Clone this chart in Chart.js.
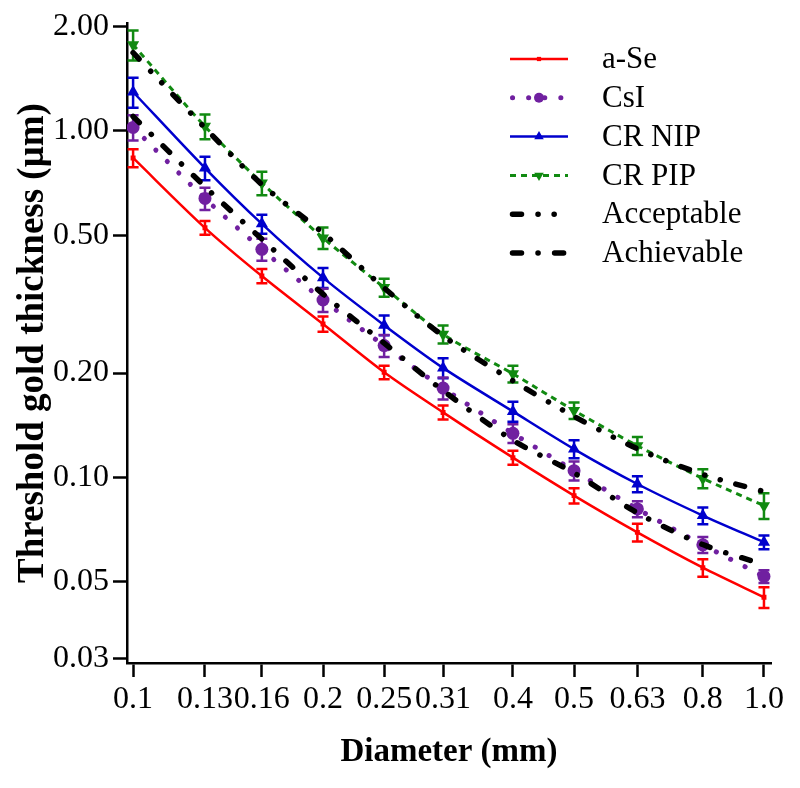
<!DOCTYPE html>
<html><head><meta charset="utf-8">
<script src="https://cdn.jsdelivr.net/npm/chart.js@4.4.1/dist/chart.umd.min.js"></script>
<style>html,body{margin:0;padding:0;background:#fff}canvas{display:block}</style>
</head><body>
<canvas id="c" width="800" height="788"></canvas>
<script>
const diameters = [0.1, 0.13, 0.16, 0.2, 0.25, 0.31, 0.4, 0.5, 0.63, 0.8, 1.0];
const xTickLabels = ['0.1', '0.13', '0.16', '0.2', '0.25', '0.31', '0.4', '0.5', '0.63', '0.8', '1.0'];
const yTickValues = [0.03, 0.05, 0.1, 0.2, 0.5, 1, 2];
const yTickLabels = ['0.03', '0.05', '0.10', '0.20', '0.50', '1.00', '2.00'];
const seriesNames = ['a-Se', 'CsI', 'CR NIP', 'CR PIP', 'Acceptable', 'Achievable'];

const aSe      = [0.835, 0.525, 0.381, 0.277, 0.201, 0.154, 0.114, 0.0886, 0.0694, 0.0549, 0.0451];
const aSeErr   = [0.050, 0.024, 0.018, 0.014, 0.0089, 0.0071, 0.0053, 0.0045, 0.0041, 0.0032, 0.0031];
const csi      = [1.023, 0.638, 0.455, 0.325, 0.240, 0.181, 0.134, 0.1046, 0.0811, 0.0639, 0.0518];
const csiErr   = [0.085, 0.047, 0.033, 0.025, 0.0175, 0.0132, 0.0084, 0.0066, 0.0043, 0.0034, 0.0022];
const crNip    = [1.294, 0.781, 0.539, 0.377, 0.275, 0.207, 0.155, 0.1207, 0.0957, 0.0776, 0.065];
const crNipErr = [0.129, 0.061, 0.034, 0.025, 0.018, 0.0138, 0.0103, 0.0072, 0.0051, 0.0043, 0.003];
const crPip    = [1.772, 1.030, 0.707, 0.491, 0.353, 0.259, 0.199, 0.156, 0.1234, 0.0993, 0.0829];
const crPipErr = [0.176, 0.084, 0.055, 0.035, 0.021, 0.0155, 0.011, 0.0086, 0.0074, 0.0063, 0.0071];
const acceptable = [1.68, 1.02, 0.70, 0.507, 0.352, 0.256, 0.190, 0.150, 0.121, 0.102, 0.091];
const achievable = [1.10, 0.69, 0.487, 0.338, 0.244, 0.178, 0.128, 0.103, 0.079, 0.064, 0.056];

const seriesValues = [aSe, csi, crNip, crPip, acceptable, achievable];
const seriesErrors = [aSeErr, csiErr, crNipErr, crPipErr, null, null];

Chart.defaults.font.family = "'Liberation Serif', 'Times New Roman', serif";
Chart.defaults.color = '#000';

const styles = [
  {borderColor:'#FF0000', backgroundColor:'#FF0000', borderWidth:2.5, borderDash:[], pointStyle:'rect', pointRadius:3.5, legendRadius:3, rotation:0, cap:'butt'},
  {borderColor:'#7020A0', backgroundColor:'#7020A0', borderWidth:5, borderDash:[0.1,16], pointStyle:'circle', pointRadius:6.5, legendRadius:5, rotation:0, cap:'round'},
  {borderColor:'#0000CD', backgroundColor:'#0000CD', borderWidth:2.5, borderDash:[], pointStyle:'triangle', pointRadius:7, legendRadius:5.5, rotation:0, cap:'butt'},
  {borderColor:'#118A11', backgroundColor:'#118A11', borderWidth:3, borderDash:[6,5], pointStyle:'triangle', pointRadius:7, legendRadius:5.5, rotation:180, cap:'butt'},
  {borderColor:'#000000', backgroundColor:'#000000', borderWidth:5.5, borderDash:[9,16.5,0.1,16,0.1,16], pointStyle:'circle', pointRadius:0, legendRadius:0, rotation:0, cap:'round'},
  {borderColor:'#000000', backgroundColor:'#000000', borderWidth:5.5, borderDash:[9,16.5,0.1,16.5], pointStyle:'circle', pointRadius:0, legendRadius:0, rotation:0, cap:'round'}
];

const datasets = seriesNames.map((name, i) => ({
  label: name,
  data: diameters.map((d, j) => ({x: d, y: seriesValues[i][j]})),
  borderColor: styles[i].borderColor,
  backgroundColor: styles[i].backgroundColor,
  borderWidth: styles[i].borderWidth,
  borderDash: styles[i].borderDash,
  borderCapStyle: styles[i].cap,
  pointStyle: styles[i].pointStyle,
  pointRadius: styles[i].pointRadius,
  pointRotation: styles[i].rotation,
  pointBorderWidth: 0,
  pointHoverRadius: styles[i].pointRadius,
  pointBackgroundColor: styles[i].backgroundColor,
  tension: 0.3,
  fill: false,
  order: i >= 4 ? -1 : i
}));

const errorBars = {
  id: 'errorBars',
  beforeDatasetDraw(chart, args) {
    const errs = seriesErrors[args.index];
    if (!errs) return;
    const ds = chart.data.datasets[args.index];
    const ctx = chart.ctx, xs = chart.scales.x, ys = chart.scales.y;
    ctx.save();
    ctx.strokeStyle = ds.borderColor;
    ctx.lineWidth = 2.5;
    ctx.setLineDash([]);
    ctx.lineCap = 'butt';
    ds.data.forEach((p, k) => {
      const e = errs[k];
      const x = xs.getPixelForValue(p.x);
      const y1 = ys.getPixelForValue(p.y + e);
      const y2 = ys.getPixelForValue(p.y - e);
      ctx.beginPath();
      ctx.moveTo(x, y1); ctx.lineTo(x, y2);
      ctx.moveTo(x - 5.5, y1); ctx.lineTo(x + 5.5, y1);
      ctx.moveTo(x - 5.5, y2); ctx.lineTo(x + 5.5, y2);
      ctx.stroke();
    });
    ctx.restore();
  }
};

function markerPath(ctx, style, r, rot, x, y) {
  ctx.beginPath();
  if (style === 'circle') {
    ctx.arc(x, y, r, 0, Math.PI * 2);
  } else if (style === 'rect') {
    const s = r * Math.SQRT1_2;
    ctx.rect(x - s, y - s, 2 * s, 2 * s);
  } else if (style === 'triangle') {
    let a = rot * Math.PI / 180;
    ctx.moveTo(x + Math.sin(a) * r, y - Math.cos(a) * r);
    a += 2 * Math.PI / 3;
    ctx.lineTo(x + Math.sin(a) * r, y - Math.cos(a) * r);
    a += 2 * Math.PI / 3;
    ctx.lineTo(x + Math.sin(a) * r, y - Math.cos(a) * r);
    ctx.closePath();
  }
}

const customLegend = {
  id: 'customLegend',
  afterDraw(chart) {
    const ctx = chart.ctx;
    const x0 = 512.5, x1 = 566, xm = 539, xt = 602;
    chart.data.datasets.forEach((ds, i) => {
      const y = 59 + i * 38.8;
      const st = styles[i];
      ctx.save();
      ctx.strokeStyle = ds.borderColor;
      ctx.lineWidth = st.borderWidth;
      ctx.lineCap = st.cap;
      ctx.setLineDash(st.borderDash);
      ctx.beginPath();
      ctx.moveTo(st.cap === 'round' ? x0 : 510, y);
      ctx.lineTo(st.cap === 'round' ? x1 : 568, y);
      ctx.stroke();
      ctx.setLineDash([]);
      if (st.legendRadius > 0) {
        ctx.fillStyle = ds.backgroundColor;
        markerPath(ctx, st.pointStyle, st.legendRadius, st.rotation, xm, y);
        ctx.fill();
      }
      ctx.fillStyle = '#000';
      ctx.font = "31px 'Liberation Serif', 'Times New Roman', serif";
      ctx.textAlign = 'left';
      ctx.textBaseline = 'middle';
      ctx.fillText(ds.label, xt, y + 1);
      ctx.restore();
    });
  }
};

new Chart(document.getElementById('c'), {
  type: 'line',
  data: { datasets },
  options: {
    responsive: false,
    animation: false,
    devicePixelRatio: 1,
    layout: { padding: { left: 0, top: 22, right: 29, bottom: 0 } },
    plugins: { legend: { display: false }, tooltip: { enabled: false } },
    events: [],
    scales: {
      x: {
        type: 'logarithmic',
        min: 0.0978, max: 1.026,
        afterBuildTicks: s => { s.ticks = diameters.map(v => ({ value: v })); },
        afterFit: s => { s.height = 125; },
        ticks: {
          autoSkip: false, maxRotation: 0, minRotation: 0, color: '#000',
          font: { size: 32 }, padding: 3,
          callback: (v, i) => xTickLabels[i]
        },
        grid: { drawOnChartArea: false, drawTicks: true, tickLength: 14, tickWidth: 2.5, tickColor: '#000' },
        border: { display: true, color: '#000', width: 2.5 },
        title: { display: true, text: 'Diameter (mm)', color: '#000', font: { size: 33, weight: 'bold' }, padding: { top: 0, bottom: 16 } }
      },
      y: {
        type: 'logarithmic',
        min: 0.02914, max: 2.044,
        afterBuildTicks: s => { s.ticks = yTickValues.map(v => ({ value: v })); },
        afterFit: s => { s.width = 127; },
        ticks: {
          autoSkip: false, color: '#000', font: { size: 32 }, padding: 4,
          callback: (v, i) => yTickLabels[i]
        },
        grid: { drawOnChartArea: false, drawTicks: true, tickLength: 14, tickWidth: 2.5, tickColor: '#000' },
        border: { display: true, color: '#000', width: 2.5 },
        title: { display: true, text: 'Threshold gold thickness (\u03bcm)', color: '#000', font: { size: 37, weight: 'bold' }, padding: { top: 11, bottom: 0 } }
      }
    }
  },
  plugins: [errorBars, customLegend]
});
</script>
</body></html>
